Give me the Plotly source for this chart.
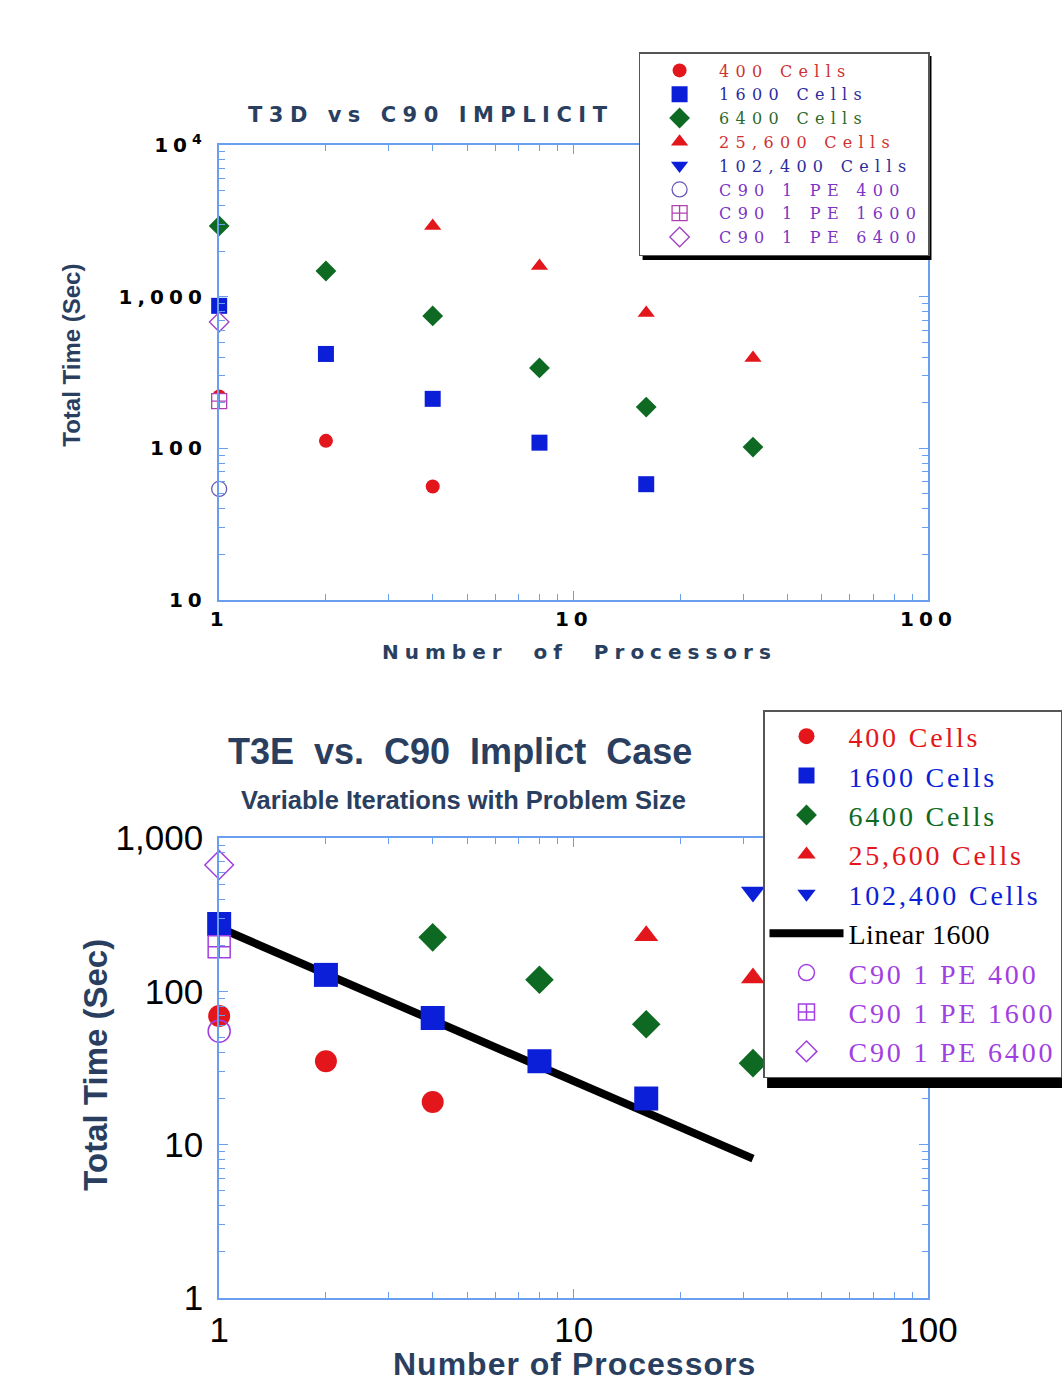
import plotly.graph_objects as go

# ---------------- data: top panel (T3D vs C90) ----------------
t_x400 = [1, 2, 4]
t_y400 = [220, 112, 56]
t_x1600 = [1, 2, 4, 8, 16]
t_y1600 = [870, 419, 212, 109, 58]
t_x6400 = [1, 2, 4, 8, 16, 32]
t_y6400 = [2925, 1477, 746, 339, 187, 102]
t_x25600 = [4, 8, 16, 32]
t_y25600 = [2925, 1593, 781, 394]
t_x102400 = [None]
t_y102400 = [None]
t_xc400 = [1]
t_yc400 = [54]
t_xc1600 = [1]
t_yc1600 = [205]
t_xc6400 = [1]
t_yc6400 = [681]

# ---------------- data: bottom panel (T3E vs C90) ----------------
b_x400 = [1, 2, 4]
b_y400 = [69, 35, 19]
b_x1600 = [1, 2, 4, 8, 16]
b_y1600 = [275, 128, 67, 35, 20]
b_x6400 = [4, 8, 16, 32]
b_y6400 = [225, 119, 61, 34]
b_x25600 = [16, 32]
b_y25600 = [230, 122]
b_x102400 = [32]
b_y102400 = [444]
b_xlin = [1, 32]
b_ylin = [260, 8.1]
b_xc400 = [1]
b_yc400 = [55]
b_xc1600 = [1]
b_yc1600 = [195]
b_xc6400 = [1]
b_yc6400 = [667]

x_tickvals = [1, 10, 100]
x_ticktext = ["1", "10", "100"]
x_minor = [2, 3, 4, 5, 6, 7, 8, 9, 20, 30, 40, 50, 60, 70, 80, 90]
top_y_tickvals = [10, 100, 1000, 10000]
top_y_ticktext = ["10", "100", "1,000", "10<sup>4</sup>"]
top_y_minor = [20, 30, 40, 50, 60, 70, 80, 90, 200, 300, 400, 500, 600, 700, 800, 900,
               2000, 3000, 4000, 5000, 6000, 7000, 8000, 9000]
bot_y_tickvals = [1, 10, 100, 1000]
bot_y_ticktext = ["1", "10", "100", "1,000"]
bot_y_minor = [2, 3, 4, 5, 6, 7, 8, 9, 20, 30, 40, 50, 60, 70, 80, 90,
               200, 300, 400, 500, 600, 700, 800, 900]

W, H = 1062, 1384
RED = "#e3161b"
BLUE = "#0c1fd8"
GREEN = "#0e6a22"
PURPLE = "#a23fe2"
AXC = "#6a9ff0"
NB = "\u00a0"
THIN = "\u2009"


def px_x(p):
    return p / W


def px_y(p):
    return 1 - p / H


def lbl(text, color, ls):
    return f"<span style='color:{color};letter-spacing:{ls}px'>{text}</span>"


fig = go.Figure()

# ---- top traces
top_ls = 6.3
top_specs = [
    (t_x400, t_y400, "400 Cells", "circle", RED, RED, "#d03030", 14),
    (t_x1600, t_y1600, "1600 Cells", "square", BLUE, BLUE, "#2b2b9c", 16),
    (t_x6400, t_y6400, "6400 Cells", "diamond", GREEN, GREEN, "#2c6a2c", 16),
    (t_x25600, t_y25600, "25,600 Cells", "triangle-up", RED, RED, "#d03030", 15),
    (t_x102400, t_y102400, "102,400 Cells", "triangle-down", BLUE, BLUE, "#2b2b9c", 15),
    (t_xc400, t_yc400, "C90 1 PE 400", "circle", "white", "#6a5ab8", "#7c34c4", 15),
    (t_xc1600, t_yc1600, "C90 1 PE 1600", "square-cross", "white", "#b040b0", "#7c34c4", 15),
    (t_xc6400, t_yc6400, "C90 1 PE 6400", "diamond", "white", "#a040c0", "#7c34c4", 15),
]
for xs, ys, name, sym, fc, lc, tc, sz in top_specs:
    fig.add_trace(go.Scatter(
        x=xs, y=ys, mode="markers", name=lbl(name, tc, top_ls),
        xaxis="x", yaxis="y", legend="legend", cliponaxis=False,
        marker=dict(symbol=sym, color=fc, size=sz,
                    line=dict(color=lc, width=1.3 if fc == "white" else 0)),
    ))

# ---- bottom traces (line drawn first so markers sit on top; legendrank keeps order)
bot_ls = 2.8
fig.add_trace(go.Scatter(
    x=b_xlin, y=b_ylin, mode="lines", name=lbl("Linear 1600", "black", 0.5),
    xaxis="x2", yaxis="y2", legend="legend2", legendrank=6,
    line=dict(color="black", width=8),
))
bot_specs = [
    (b_x400, b_y400, "400 Cells", "circle", RED, 22, 1),
    (b_x1600, b_y1600, "1600 Cells", "square", BLUE, 24, 2),
    (b_x6400, b_y6400, "6400 Cells", "diamond", GREEN, 22, 3),
    (b_x25600, b_y25600, "25,600 Cells", "triangle-up", RED, 21, 4),
    (b_x102400, b_y102400, "102,400 Cells", "triangle-down", BLUE, 21, 5),
]
for xs, ys, name, sym, fc, sz, rk in bot_specs:
    fig.add_trace(go.Scatter(
        x=xs, y=ys, mode="markers", name=lbl(name, fc, bot_ls),
        xaxis="x2", yaxis="y2", legend="legend2", cliponaxis=False, legendrank=rk,
        marker=dict(symbol=sym, color=fc, size=sz, line=dict(width=0)),
    ))
for xs, ys, name, sym, rk in [
    (b_xc400, b_yc400, "C90 1 PE 400", "circle-open", 7),
    (b_xc1600, b_yc1600, "C90 1 PE 1600", "square-cross-open", 8),
    (b_xc6400, b_yc6400, "C90 1 PE 6400", "diamond-open", 9),
]:
    fig.add_trace(go.Scatter(
        x=xs, y=ys, mode="markers", name=lbl(name, PURPLE, bot_ls),
        xaxis="x2", yaxis="y2", legend="legend2", cliponaxis=False, legendrank=rk,
        marker=dict(symbol=sym, color=PURPLE, size=22, line=dict(width=1.5)),
    ))

TOPFONT = dict(family="DejaVu Sans", size=20, color="black")
BOTFONT = dict(family="Liberation Sans", size=35, color="black")


def top_txt(t):
    return f"<b><span style='letter-spacing:5px'>{t}</span></b>"


def xaxis_common(font, domain, anchor, texts):
    return dict(type="log", range=[0, 2], domain=domain, anchor=anchor, automargin=False,
                tickvals=x_tickvals, ticktext=texts,
                ticks="inside", ticklen=9, tickwidth=1.3, tickcolor=AXC,
                showline=True, linecolor=AXC, linewidth=2, mirror="ticks",
                showgrid=False, zeroline=False, tickfont=font,
                minor=dict(tickvals=x_minor, ticks="inside", ticklen=6, tickcolor=AXC, tickwidth=1.2, showgrid=False))


def yaxis_common(font, domain, anchor, rng, tv, texts, mv):
    return dict(type="log", range=rng, domain=domain, anchor=anchor, automargin=False,
                tickvals=tv, ticktext=texts,
                ticks="inside", ticklen=9, tickwidth=1.3, tickcolor=AXC,
                showline=True, linecolor=AXC, linewidth=2, mirror="ticks",
                showgrid=False, zeroline=False, tickfont=font,
                minor=dict(tickvals=mv, ticks="inside", ticklen=6, tickcolor=AXC, tickwidth=1.2, showgrid=False))


xdom = [px_x(220), px_x(932)]
fig.update_layout(
    width=W, height=H, autosize=False,
    margin=dict(l=0, r=0, t=0, b=0),
    paper_bgcolor="white", plot_bgcolor="white",
    xaxis=xaxis_common(TOPFONT, xdom, "y", [top_txt(t) for t in x_ticktext]),
    yaxis=yaxis_common(TOPFONT, [px_y(600), px_y(145)], "x", [1, 4],
                       top_y_tickvals, [top_txt(t) + NB for t in top_y_ticktext], top_y_minor),
    xaxis2=xaxis_common(BOTFONT, xdom, "y2", x_ticktext),
    yaxis2=yaxis_common(BOTFONT, [px_y(1298), px_y(838)], "x2", [0, 3],
                        bot_y_tickvals, [t + THIN for t in bot_y_ticktext], bot_y_minor),
    legend=dict(x=px_x(641), y=px_y(52), xanchor="left", yanchor="top",
                bgcolor="white", bordercolor="#555555", borderwidth=1.5,
                font=dict(family="DejaVu Serif", size=16), tracegroupgap=0,
                itemsizing="trace", itemwidth=69),
    legend2=dict(x=px_x(766), y=px_y(710), xanchor="left", yanchor="top",
                 bgcolor="white", bordercolor="#555555", borderwidth=1.5,
                 font=dict(family="Liberation Serif", size=28), tracegroupgap=0,
                 itemsizing="trace", itemwidth=74),
    showlegend=True,
)

# legend drop shadows (drawn under the legend boxes)
fig.add_shape(type="rect", xref="paper", yref="paper", layer="above",
              x0=px_x(645), x1=px_x(935), y0=px_y(260), y1=px_y(56),
              fillcolor="black", line=dict(width=0))
fig.add_shape(type="rect", xref="paper", yref="paper", layer="above",
              x0=px_x(770), x1=px_x(1070), y0=px_y(1088), y1=px_y(714),
              fillcolor="black", line=dict(width=0))

ann = [
    dict(text="<b><span style='letter-spacing:6.5px'>T3D vs C90 IMPLICIT</span></b>", x=px_x(432), y=px_y(115),
         font=dict(family="DejaVu Sans", size=21)),
    dict(text="<b><span style='letter-spacing:6px'>Number  of  Processors</span></b>", x=px_x(582), y=px_y(652),
         font=dict(family="DejaVu Sans", size=20)),
    dict(text="<b>Total Time (Sec)</b>", x=px_x(72), y=px_y(355), textangle=-90,
         font=dict(family="Liberation Sans", size=24)),
    dict(text="<b>T3E  vs.  C90  Implict  Case</b>", x=px_x(462), y=px_y(752),
         font=dict(family="Liberation Sans", size=36)),
    dict(text="<b>Variable Iterations with Problem Size</b>", x=px_x(465), y=px_y(800),
         font=dict(family="Liberation Sans", size=25.5)),
    dict(text="<b><span style='letter-spacing:1px'>Number of Processors</span></b>", x=px_x(577), y=px_y(1364),
         font=dict(family="Liberation Sans", size=32)),
    dict(text="<b>Total Time (Sec)</b>", x=px_x(95), y=px_y(1065), textangle=-90,
         font=dict(family="Liberation Sans", size=33)),
]
for a in ann:
    fig.add_annotation(xref="paper", yref="paper", showarrow=False,
                       xanchor="center", yanchor="middle", **a)

fig.write_html("out.html", config={"displayModeBar": False},
               post_script="document.body.style.margin='0px';")
